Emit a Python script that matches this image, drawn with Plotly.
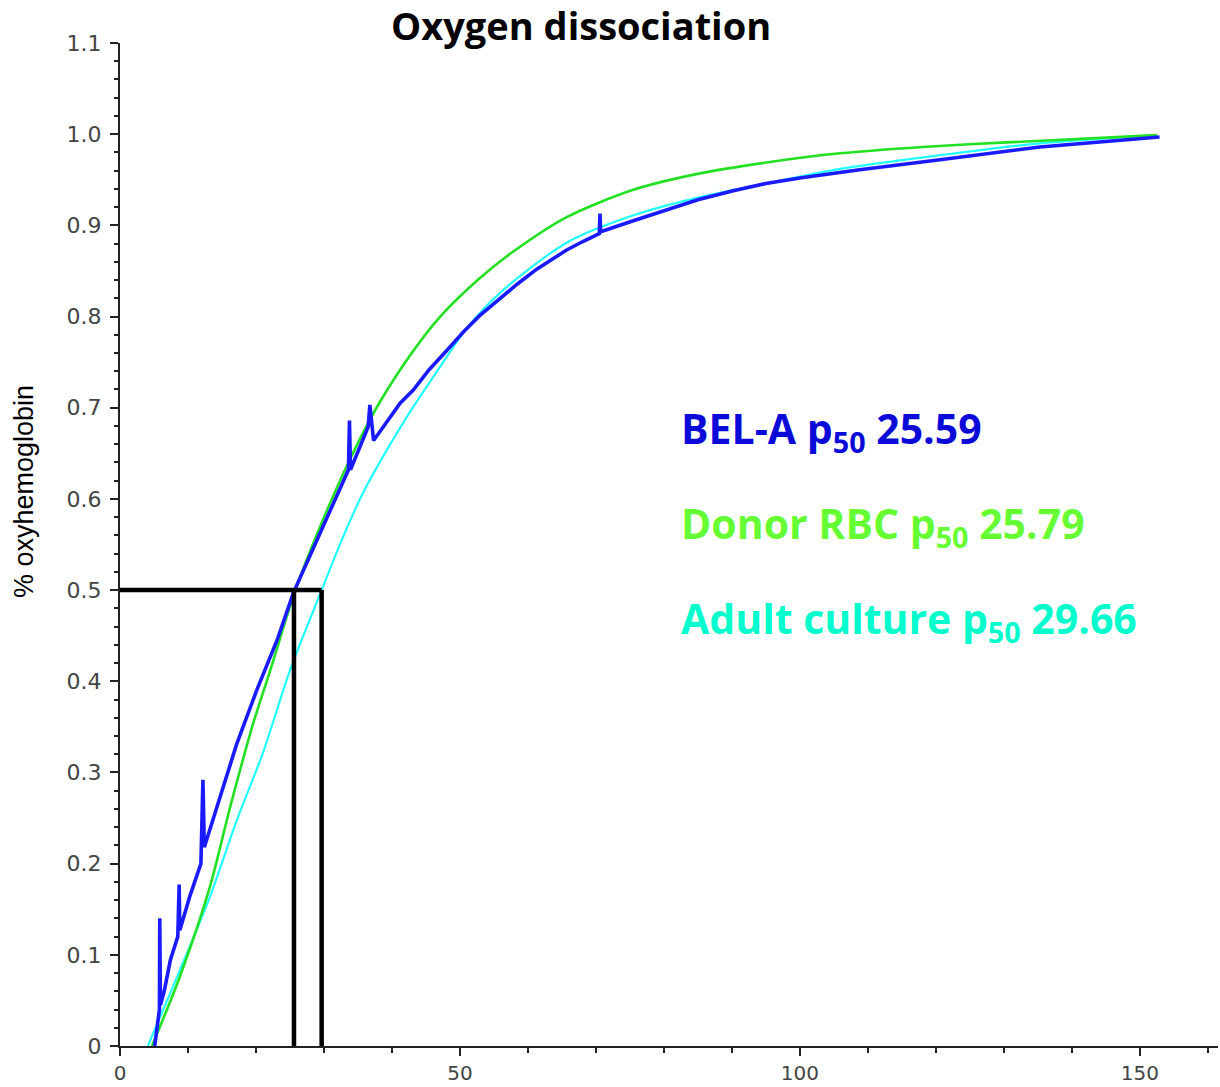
import plotly.graph_objects as go

# ---- data ----
bela_x = [5.1, 5.8, 5.85, 5.95, 6.5, 7.4, 8.5, 8.7, 8.8, 10.3, 11.9, 12.2, 12.4, 14.2, 17.2, 20.1,
          23.1, 25.5, 29.4, 33.6, 33.75, 33.9, 36.5, 36.75, 37.3, 41.2, 43.1, 45.5, 48.1, 50.5,
          52.9, 55.9, 58.5, 61.3, 65.7, 68.0, 70.5, 70.6, 70.7, 75.5, 80.4, 85.0, 90.2, 95.0,
          100.0, 108.8, 120.6, 135.3, 152.9]
bela_y = [0.0, 0.04, 0.14, 0.045, 0.06, 0.094, 0.12, 0.177, 0.127, 0.165, 0.2, 0.292, 0.218, 0.262,
          0.332, 0.39, 0.445, 0.497, 0.562, 0.632, 0.686, 0.632, 0.679, 0.703, 0.664, 0.705, 0.719,
          0.742, 0.763, 0.783, 0.801, 0.82, 0.836, 0.852, 0.873, 0.882, 0.891, 0.913, 0.893,
          0.905, 0.917, 0.928, 0.938, 0.946, 0.952, 0.961, 0.972, 0.986, 0.997]

donor_x = [4.7, 8.8, 13.2, 16.2, 19.6, 22.1, 25.79, 29.4, 33.8, 38.2, 43.1, 47.1, 52.9, 57.8,
           65.7, 75.5, 85.3, 95.1, 105.9, 118.0, 130.4, 152.5]
donor_y = [0.0, 0.076, 0.174, 0.262, 0.354, 0.412, 0.5, 0.569, 0.643, 0.706, 0.762, 0.8, 0.842,
           0.871, 0.909, 0.939, 0.957, 0.969, 0.979, 0.986, 0.991, 0.999]

adult_x = [4.1, 8.8, 13.2, 17.2, 21.0, 25.0, 29.66, 32.4, 35.7, 42.2, 47.1, 51.0, 55.9, 65.7,
           75.5, 85.3, 95.1, 105.9, 120.6, 135.3, 152.5]
adult_y = [0.0, 0.083, 0.163, 0.248, 0.321, 0.412, 0.5, 0.551, 0.606, 0.69, 0.745, 0.787, 0.826,
           0.881, 0.911, 0.931, 0.946, 0.962, 0.977, 0.99, 0.999]

p50_labels = ["BEL-A", "Donor RBC", "Adult culture"]
p50_values = [25.59, 25.79, 29.66]
half_sat = 0.5

y_ticks = [0, 0.1, 0.2, 0.3, 0.4, 0.5, 0.6, 0.7, 0.8, 0.9, 1.0, 1.1]
y_ticklabels = ["0", "0.1", "0.2", "0.3", "0.4", "0.5", "0.6", "0.7", "0.8", "0.9", "1.0", "1.1"]
x_ticks = [0, 50, 100, 150]

# ---- figure ----
fig = go.Figure()
fig.add_trace(go.Scatter(x=adult_x, y=adult_y, mode="lines",
                         line=dict(color="#22ffff", width=2.2, shape="spline", smoothing=0.8),
                         showlegend=False))
fig.add_trace(go.Scatter(x=donor_x, y=donor_y, mode="lines",
                         line=dict(color="#22e022", width=2.6, shape="spline", smoothing=0.8),
                         showlegend=False))
fig.add_trace(go.Scatter(x=bela_x, y=bela_y, mode="lines",
                         line=dict(color="#1a1aff", width=3.6), showlegend=False))

# p50 guide lines
xmax = max(p50_values)
fig.add_trace(go.Scatter(x=[0, xmax], y=[half_sat, half_sat], mode="lines",
                         line=dict(color="black", width=4.5), showlegend=False))
for v in [p50_values[0], p50_values[2]]:
    fig.add_trace(go.Scatter(x=[v, v], y=[0, half_sat], mode="lines",
                             line=dict(color="black", width=4.5), showlegend=False))

text_colors = ["#0a0ad8", "#66ff33", "#00ffcc"]
text_y = [0.675, 0.571, 0.467]
for lab, val, col, ty in zip(p50_labels, p50_values, text_colors, text_y):
    fig.add_annotation(x=82.2, y=ty, xref="x", yref="y", xanchor="left", yanchor="middle",
                       showarrow=False,
                       text=f"<b>{lab} p<sub>50</sub> {val:.2f}</b>",
                       font=dict(family="Open Sans", size=41, color=col))

fig.add_annotation(x=(581 - 120) / 1098, y=(1046 - 25) / 1003, xref="paper", yref="paper",
                   xanchor="center", yanchor="middle", showarrow=False,
                   text="<b>Oxygen dissociation</b>",
                   font=dict(family="Open Sans", size=38, color="black"))

fig.add_annotation(x=(24 - 120) / 1098, y=(1046 - 492) / 1003, xref="paper", yref="paper",
                   xanchor="center", yanchor="middle", showarrow=False, textangle=-90,
                   text="% oxyhemoglobin",
                   font=dict(family="Liberation Sans", size=27, color="black"))

tickfont = dict(family="DejaVu Sans", size=22, color="#444444")
xtickfont = dict(family="DejaVu Sans", size=20, color="#444444")
fig.update_xaxes(range=[0, 161.5], tickvals=x_ticks, ticks="outside", ticklen=8, tickwidth=2,
                 tickcolor="#222222", showline=True, linewidth=2, linecolor="#222222",
                 showgrid=False, zeroline=False, tickfont=xtickfont, automargin=False,
                 ticklabelstandoff=0,
                 minor=dict(dtick=10, ticks="outside", ticklen=5, tickwidth=2, tickcolor="#222222",
                            showgrid=False))
fig.update_yaxes(range=[0, 1.1], tickvals=y_ticks, ticktext=y_ticklabels, ticks="outside",
                 ticklen=8, tickwidth=2, tickcolor="#222222", showline=True, linewidth=2,
                 linecolor="#222222", showgrid=False, zeroline=False, tickfont=tickfont,
                 automargin=False, ticklabelstandoff=4,
                 minor=dict(dtick=0.02, ticks="outside", ticklen=4, tickwidth=2,
                            tickcolor="#222222", showgrid=False))

fig.update_layout(width=1220, height=1087, margin=dict(l=120, r=2, t=43, b=41),
                  plot_bgcolor="white", paper_bgcolor="white")

fig.write_html("out.html")
